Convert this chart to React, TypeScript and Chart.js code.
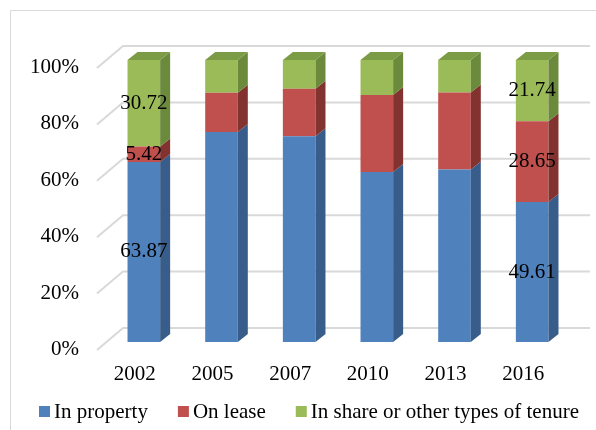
import React, { useEffect, useRef } from 'react';
import { Chart, registerables } from 'chart.js';

Chart.register(...registerables);

const years = ['2002', '2005', '2007', '2010', '2013', '2016'];
const inProperty = [63.87, 74.5, 73.0, 60.3, 61.2, 49.61];
const onLease = [5.42, 13.9, 16.8, 27.3, 27.3, 28.65];
const inShare = [30.72, 11.6, 10.2, 12.4, 11.5, 21.74];
const seriesNames = ['In property', 'On lease', 'In share or other types of tenure'];
const yTicks = [0, 20, 40, 60, 80, 100];
const labelledYears = ['2002', '2016'];

const FRONT = ['#4F81BD', '#C0504D', '#9BBB59'];
const SIDE = ['#385D8A', '#83332F', '#6B8A3C'];
const TOP = ['#4672A8', '#A84441', '#7C9B45'];
const FONT = '"Liberation Serif", "Times New Roman", serif';
const FONT_SIZE = 21;
const DX = 10;
const DY = -8;

const threeD = {
  id: 'threeD',
  beforeDraw(chart: any) {
    const { ctx } = chart;
    ctx.save();
    ctx.fillStyle = '#ffffff';
    ctx.fillRect(0, 0, chart.width, chart.height);
    ctx.strokeStyle = '#d9d9d9';
    ctx.lineWidth = 1;
    ctx.beginPath();
    ctx.moveTo(10.5, chart.height + 5);
    ctx.lineTo(10.5, 10.5);
    ctx.lineTo(chart.width + 5, 10.5);
    ctx.stroke();
    ctx.restore();
  },
  beforeDatasetsDraw(chart: any) {
    const { ctx, chartArea: a } = chart;
    const y = chart.scales.y;
    ctx.save();
    ctx.strokeStyle = '#d9d9d9';
    ctx.lineWidth = 2;
    for (const v of yTicks) {
      const py = y.getPixelForValue(v);
      ctx.beginPath();
      ctx.moveTo(a.left - 8, py + 8);
      ctx.lineTo(a.left + 18, py - 14);
      ctx.lineTo(a.right + 19, py - 14);
      ctx.stroke();
    }
    ctx.restore();
  },
  afterDatasetsDraw(chart: any) {
    const { ctx } = chart;
    const n = chart.data.datasets.length;
    ctx.save();
    for (let d = 0; d < n; d++) {
      const meta = chart.getDatasetMeta(d);
      meta.data.forEach((el: any) => {
        const p = el.getProps(['x', 'y', 'base', 'width'], true);
        const left = p.x - p.width / 2;
        const right = p.x + p.width / 2;
        const top = Math.min(p.y, p.base);
        const bottom = Math.max(p.y, p.base);
        ctx.fillStyle = SIDE[d];
        ctx.beginPath();
        ctx.moveTo(right, top);
        ctx.lineTo(right + DX, top + DY);
        ctx.lineTo(right + DX, bottom + DY);
        ctx.lineTo(right, bottom);
        ctx.closePath();
        ctx.fill();
        if (d === n - 1) {
          ctx.fillStyle = TOP[d];
          ctx.beginPath();
          ctx.moveTo(left, top);
          ctx.lineTo(left + DX, top + DY);
          ctx.lineTo(right + DX, top + DY);
          ctx.lineTo(right, top);
          ctx.closePath();
          ctx.fill();
        }
      });
    }
    ctx.fillStyle = '#000000';
    ctx.font = `${FONT_SIZE}px ${FONT}`;
    ctx.textAlign = 'center';
    ctx.textBaseline = 'middle';
    for (let d = 0; d < n; d++) {
      const meta = chart.getDatasetMeta(d);
      const values = chart.data.datasets[d].data;
      meta.data.forEach((el: any, i: number) => {
        if (!labelledYears.includes(years[i])) return;
        const p = el.getProps(['x', 'y', 'base'], true);
        ctx.fillText(Number(values[i]).toFixed(2), p.x, (p.y + p.base) / 2);
      });
    }
    ctx.restore();
  },
  afterDraw(chart: any) {
    const { ctx } = chart;
    ctx.save();
    ctx.font = `${FONT_SIZE}px ${FONT}`;
    ctx.textAlign = 'left';
    ctx.textBaseline = 'alphabetic';
    let x = 39;
    const box = 11;
    chart.data.datasets.forEach((ds: any, d: number) => {
      ctx.fillStyle = FRONT[d];
      ctx.fillRect(x, 406, box, box);
      ctx.fillStyle = '#000000';
      const tx = x + box + 4;
      ctx.fillText(ds.label, tx, 418);
      x = tx + ctx.measureText(ds.label).width + 30;
    });
    ctx.restore();
  },
};

export default function App() {
  const ref = useRef<HTMLCanvasElement | null>(null);
  useEffect(() => {
    if (!ref.current) return;
    const seriesData = [inProperty, onLease, inShare];
    const chart = new Chart(ref.current, {
      type: 'bar',
      data: {
        labels: years,
        datasets: seriesData.map((data, d) => ({
          label: seriesNames[d],
          data,
          backgroundColor: FRONT[d],
          borderWidth: 0,
          barPercentage: 0.42,
          categoryPercentage: 1,
        })),
      },
      options: {
        responsive: true,
        maintainAspectRatio: false,
        animation: false,
        layout: { padding: { left: 0, right: 25, top: 60, bottom: 38 } },
        plugins: {
          legend: { display: false },
          tooltip: { enabled: false },
        },
        scales: {
          x: {
            stacked: true,
            grid: { display: false },
            border: { display: false },
            ticks: {
              color: '#000000',
              font: { family: FONT, size: FONT_SIZE },
              padding: 12,
              labelOffset: -9,
              maxRotation: 0,
              autoSkip: false,
            },
            afterFit: (s: any) => {
              s.height = 50;
            },
          },
          y: {
            stacked: true,
            min: 0,
            max: 100,
            grid: { display: false },
            border: { display: false },
            ticks: {
              stepSize: 20,
              callback: (v: any) => `${v}%`,
              color: '#000000',
              font: { family: FONT, size: FONT_SIZE },
              padding: 18,
              labelOffset: 7.5,
            },
            afterFit: (s: any) => {
              s.width = 105;
            },
          },
        },
      },
      plugins: [threeD],
    });
    return () => chart.destroy();
  }, []);
  return (
    <div style={{ position: 'fixed', left: 0, top: 0, width: 596, height: 430, background: '#fff' }}>
      <canvas ref={ref} style={{ display: 'block' }} />
    </div>
  );
}
